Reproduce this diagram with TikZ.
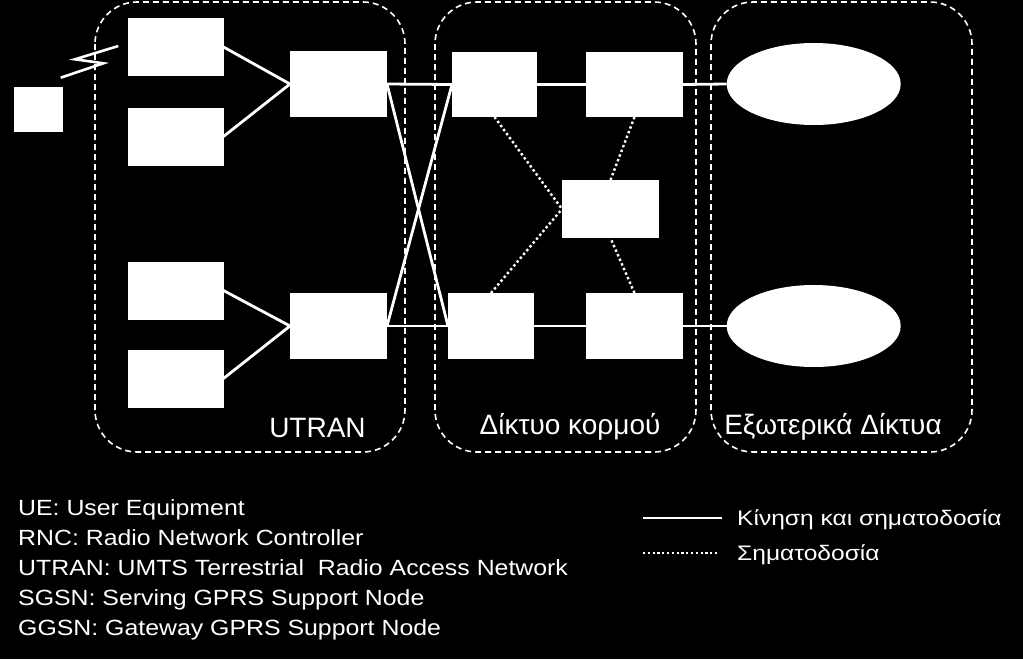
\documentclass[tikz,border=0pt]{standalone}
\usepackage{fontspec}
\setmainfont{Liberation Sans}
\newfontfamily\legendfont{Liberation Sans}[FakeStretch=1.13]
\newfontfamily\keyfont{Liberation Sans}[FakeStretch=1.17]
\usetikzlibrary{shapes.geometric}

\begin{document}
\begin{tikzpicture}[x=1pt, y=-1pt,
  netbox/.style={fill=white, inner sep=0pt, outer sep=0pt},
  extnet/.style={ellipse, fill=white, inner sep=0pt, outer sep=0pt,
    minimum width=174pt, minimum height=82pt},
  traffic/.style={white, line width=2.8pt},
  signal/.style={white, line width=2.4pt, dash pattern=on 2.4pt off 2.6pt},
  areabox/.style={white, line width=1.6pt, dash pattern=on 6pt off 4pt,
    rounded corners=42pt},
  arealabel/.style={text=white, anchor=base, inner sep=0pt,
    font=\fontsize{28}{32}\selectfont},
  legendtext/.style={text=white, anchor=base west, inner sep=0pt,
    font=\legendfont\fontsize{22}{26}\selectfont},
  keytext/.style={text=white, anchor=base west, inner sep=0pt,
    font=\keyfont\fontsize{21}{25}\selectfont}
  ]
  \fill[black] (0,0) rectangle (1023,659);
  \useasboundingbox (0,0) rectangle (1023,659);

  % network areas
  \draw[areabox] (95,2) rectangle (405,452);
  \draw[areabox] (435,2) rectangle (696,452);
  \draw[areabox] (711,2) rectangle (972,452);
  \node[arealabel] (utranlbl) at (317.5,437) {UTRAN};
  \node[arealabel] (corelbl) at (570,434) {Δίκτυο κορμού};
  \node[arealabel] (extlbl) at (833,434) {Εξωτερικά Δίκτυα};

  % UE, Node B, RNC
  \node[netbox, minimum width=49pt, minimum height=45pt] (ue) at (38.5,109.5) {};
  \foreach \n/\y in {1/47, 2/136.5, 3/290.5, 4/378.5}
    \node[netbox, minimum width=96pt, minimum height=58pt] (nodeb\n) at (175.5,\y) {};
  \node[netbox, minimum width=97pt, minimum height=66pt] (rnc1) at (338.5,84) {};
  \node[netbox, minimum width=97pt, minimum height=66pt] (rnc2) at (338.5,326) {};

  % core network
  \node[netbox, minimum width=85pt, minimum height=65pt] (sgsn1) at (494.5,84.5) {};
  \node[netbox, minimum width=86pt, minimum height=66pt] (sgsn2) at (491,326) {};
  \node[netbox, minimum width=97pt, minimum height=65pt] (ggsn1) at (634.5,84.5) {};
  \node[netbox, minimum width=97pt, minimum height=66pt] (ggsn2) at (634.5,326) {};
  \node[netbox, minimum width=97pt, minimum height=58pt] (hlr) at (610.5,209) {};

  % external networks
  \node[extnet] (pdn1) at (813.7,84) {};
  \node[extnet] (pdn2) at (813.7,326) {};

  % radio link
  \draw[white, line width=2.6pt] (60.7,77.7) -- (103.3,63.3) -- (75,59.3) -- (118.3,46);

  % traffic and signalling
  \draw[traffic] (nodeb1.east) -- (rnc1.west);
  \draw[traffic] (nodeb2.east) -- (rnc1.west);
  \draw[traffic] (nodeb3.east) -- (rnc2.west);
  \draw[traffic] (nodeb4.east) -- (rnc2.west);
  \draw[traffic] (rnc1.east) -- (sgsn1.west);
  \draw[traffic] (rnc1.east) -- (sgsn2.west);
  \draw[traffic] (rnc2.east) -- (sgsn1.west);
  \draw[traffic] (rnc2.east) -- (sgsn2.west);
  \draw[traffic] (sgsn1) -- (ggsn1);
  \draw[traffic] (sgsn2) -- (ggsn2);
  \draw[traffic] (ggsn1.east) -- (pdn1.west);
  \draw[traffic] (ggsn2.east) -- (pdn2.west);

  % signalling only
  \draw[signal] (sgsn1.south) -- (hlr.west);
  \draw[signal] (sgsn2.north) -- (hlr.west);
  \draw[signal] (ggsn1.south) -- (hlr.north);
  \draw[signal] (ggsn2.north) -- (hlr.south);

  % abbreviations
  \node[legendtext] (keyue) at (18,515) {UE: User Equipment};
  \node[legendtext] (keyrnc) at (18,545) {RNC: Radio Network Controller};
  \node[legendtext] (keyutran) at (18,575) {UTRAN: UMTS Terrestrial \ Radio Access Network};
  \node[legendtext] (keysgsn) at (18,605) {SGSN: Serving GPRS Support Node};
  \node[legendtext] (keyggsn) at (18,635) {GGSN: Gateway GPRS Support Node};

  % line key
  \coordinate (solidA) at (643,518);
  \coordinate (solidB) at (722,518);
  \draw[traffic] (solidA) -- (solidB);
  \node[keytext] (keysolid) at (737,525) {Κίνηση και σηματοδοσία};
  \coordinate (dotA) at (643,553);
  \coordinate (dotB) at (718,553);
  \draw[signal, dash pattern=on 2.2pt off 2.6pt] (dotA) -- (dotB);
  \node[keytext] (keydot) at (737,560) {Σηματοδοσία};
\end{tikzpicture}
\end{document}
